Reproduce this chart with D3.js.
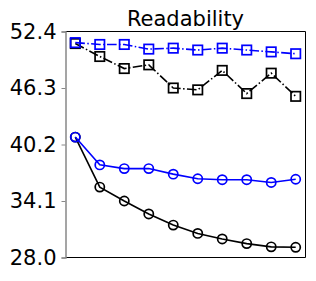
<!DOCTYPE html>
<html>
<head>
<meta charset="utf-8">
<script src="https://cdn.jsdelivr.net/npm/d3@7"></script>
<style>
  body { margin: 0; background: #fff; }
  text { font-family: "DejaVu Sans", sans-serif; }
</style>
</head>
<body>
<svg></svg>
<script>
var width = 316;
var height = 281;

// data
var steps = [1, 2, 3, 4, 5, 6, 7, 8, 9, 10];
var blueSquares  = [51.2, 51.0, 51.0, 50.5, 50.6, 50.4, 50.6, 50.4, 50.2, 50.0];
var blackSquares = [51.1, 49.7, 48.4, 48.8, 46.3, 46.1, 48.2, 45.7, 47.9, 45.4];
var blueCircles  = [41.0, 38.0, 37.6, 37.6, 37.0, 36.5, 36.4, 36.4, 36.1, 36.45];
var blackCircles = [41.0, 35.6, 34.1, 32.7, 31.5, 30.6, 30.0, 29.5, 29.15, 29.1];
var yTicks = [28.0, 34.1, 40.2, 46.3, 52.4];

var margin = {top: 31.5, right: 10.5, bottom: 23.5, left: 65.5};
var w = width - margin.left - margin.right;
var h = height - margin.top - margin.bottom;

var svg = d3.select("svg")
    .attr("width", width)
    .attr("height", height);

var g = svg.append("g")
    .attr("transform", "translate(" + margin.left + "," + margin.top + ")");

var x = d3.scaleLinear()
    .domain([0.6, 10.4])
    .range([0, w]);

var y = d3.scaleLinear()
    .domain([28.0, 52.4])
    .range([h, 0]);

// frame
g.append("line").attr("x1", 0).attr("x2", w).attr("y1", 0).attr("y2", 0)
    .style("stroke", "#000").style("stroke-width", 1);
g.append("line").attr("x1", w).attr("x2", w).attr("y1", 0).attr("y2", h)
    .style("stroke", "#000").style("stroke-width", 1);
g.append("line").attr("x1", 0).attr("x2", w).attr("y1", h).attr("y2", h)
    .style("stroke", "#000").style("stroke-width", 1.2);

var yAxis = d3.axisLeft(y)
    .tickValues(yTicks)
    .tickFormat(d3.format(".1f"))
    .tickSize(4)
    .tickPadding(5);

var ya = g.append("g").call(yAxis);
ya.select(".domain").style("stroke", "#888").style("stroke-width", 1.5);
ya.selectAll(".tick line").style("stroke", "#888");
ya.selectAll(".tick text")
    .style("font-size", "21px")
    .style("fill", "#000");

svg.append("text")
    .attr("x", margin.left + w / 2)
    .attr("y", 26)
    .attr("text-anchor", "middle")
    .style("font-size", "21px")
    .text("Readability");

var line = d3.line()
    .x(function(d, i) { return x(steps[i]); })
    .y(function(d) { return y(d); });

var series = [
  {values: blackCircles, color: "#000", marker: "circle", dash: null},
  {values: blueCircles, color: "#0000ff", marker: "circle", dash: null},
  {values: blackSquares, color: "#000", marker: "square", dash: "9.6,2.4,1.5,2.4"},
  {values: blueSquares, color: "#0000ff", marker: "square", dash: "9.6,2.4,1.5,2.4"}
];

series.forEach(function(s) {
  g.append("path")
      .datum(s.values)
      .attr("d", line)
      .style("fill", "none")
      .style("stroke", s.color)
      .style("stroke-width", 1.6)
      .style("stroke-dasharray", s.dash);

  if (s.marker == "circle") {
    g.selectAll(null)
        .data(s.values)
        .enter().append("circle")
        .attr("cx", function(d, i) { return x(steps[i]); })
        .attr("cy", function(d) { return y(d); })
        .attr("r", 4.6)
        .style("fill", "none")
        .style("stroke", s.color)
        .style("stroke-width", 1.7);
  } else {
    g.selectAll(null)
        .data(s.values)
        .enter().append("rect")
        .attr("x", function(d, i) { return x(steps[i]) - 4.7; })
        .attr("y", function(d) { return y(d) - 4.7; })
        .attr("width", 9.4)
        .attr("height", 9.4)
        .style("fill", "none")
        .style("stroke", s.color)
        .style("stroke-width", 1.7);
  }
});
</script>
</body>
</html>
